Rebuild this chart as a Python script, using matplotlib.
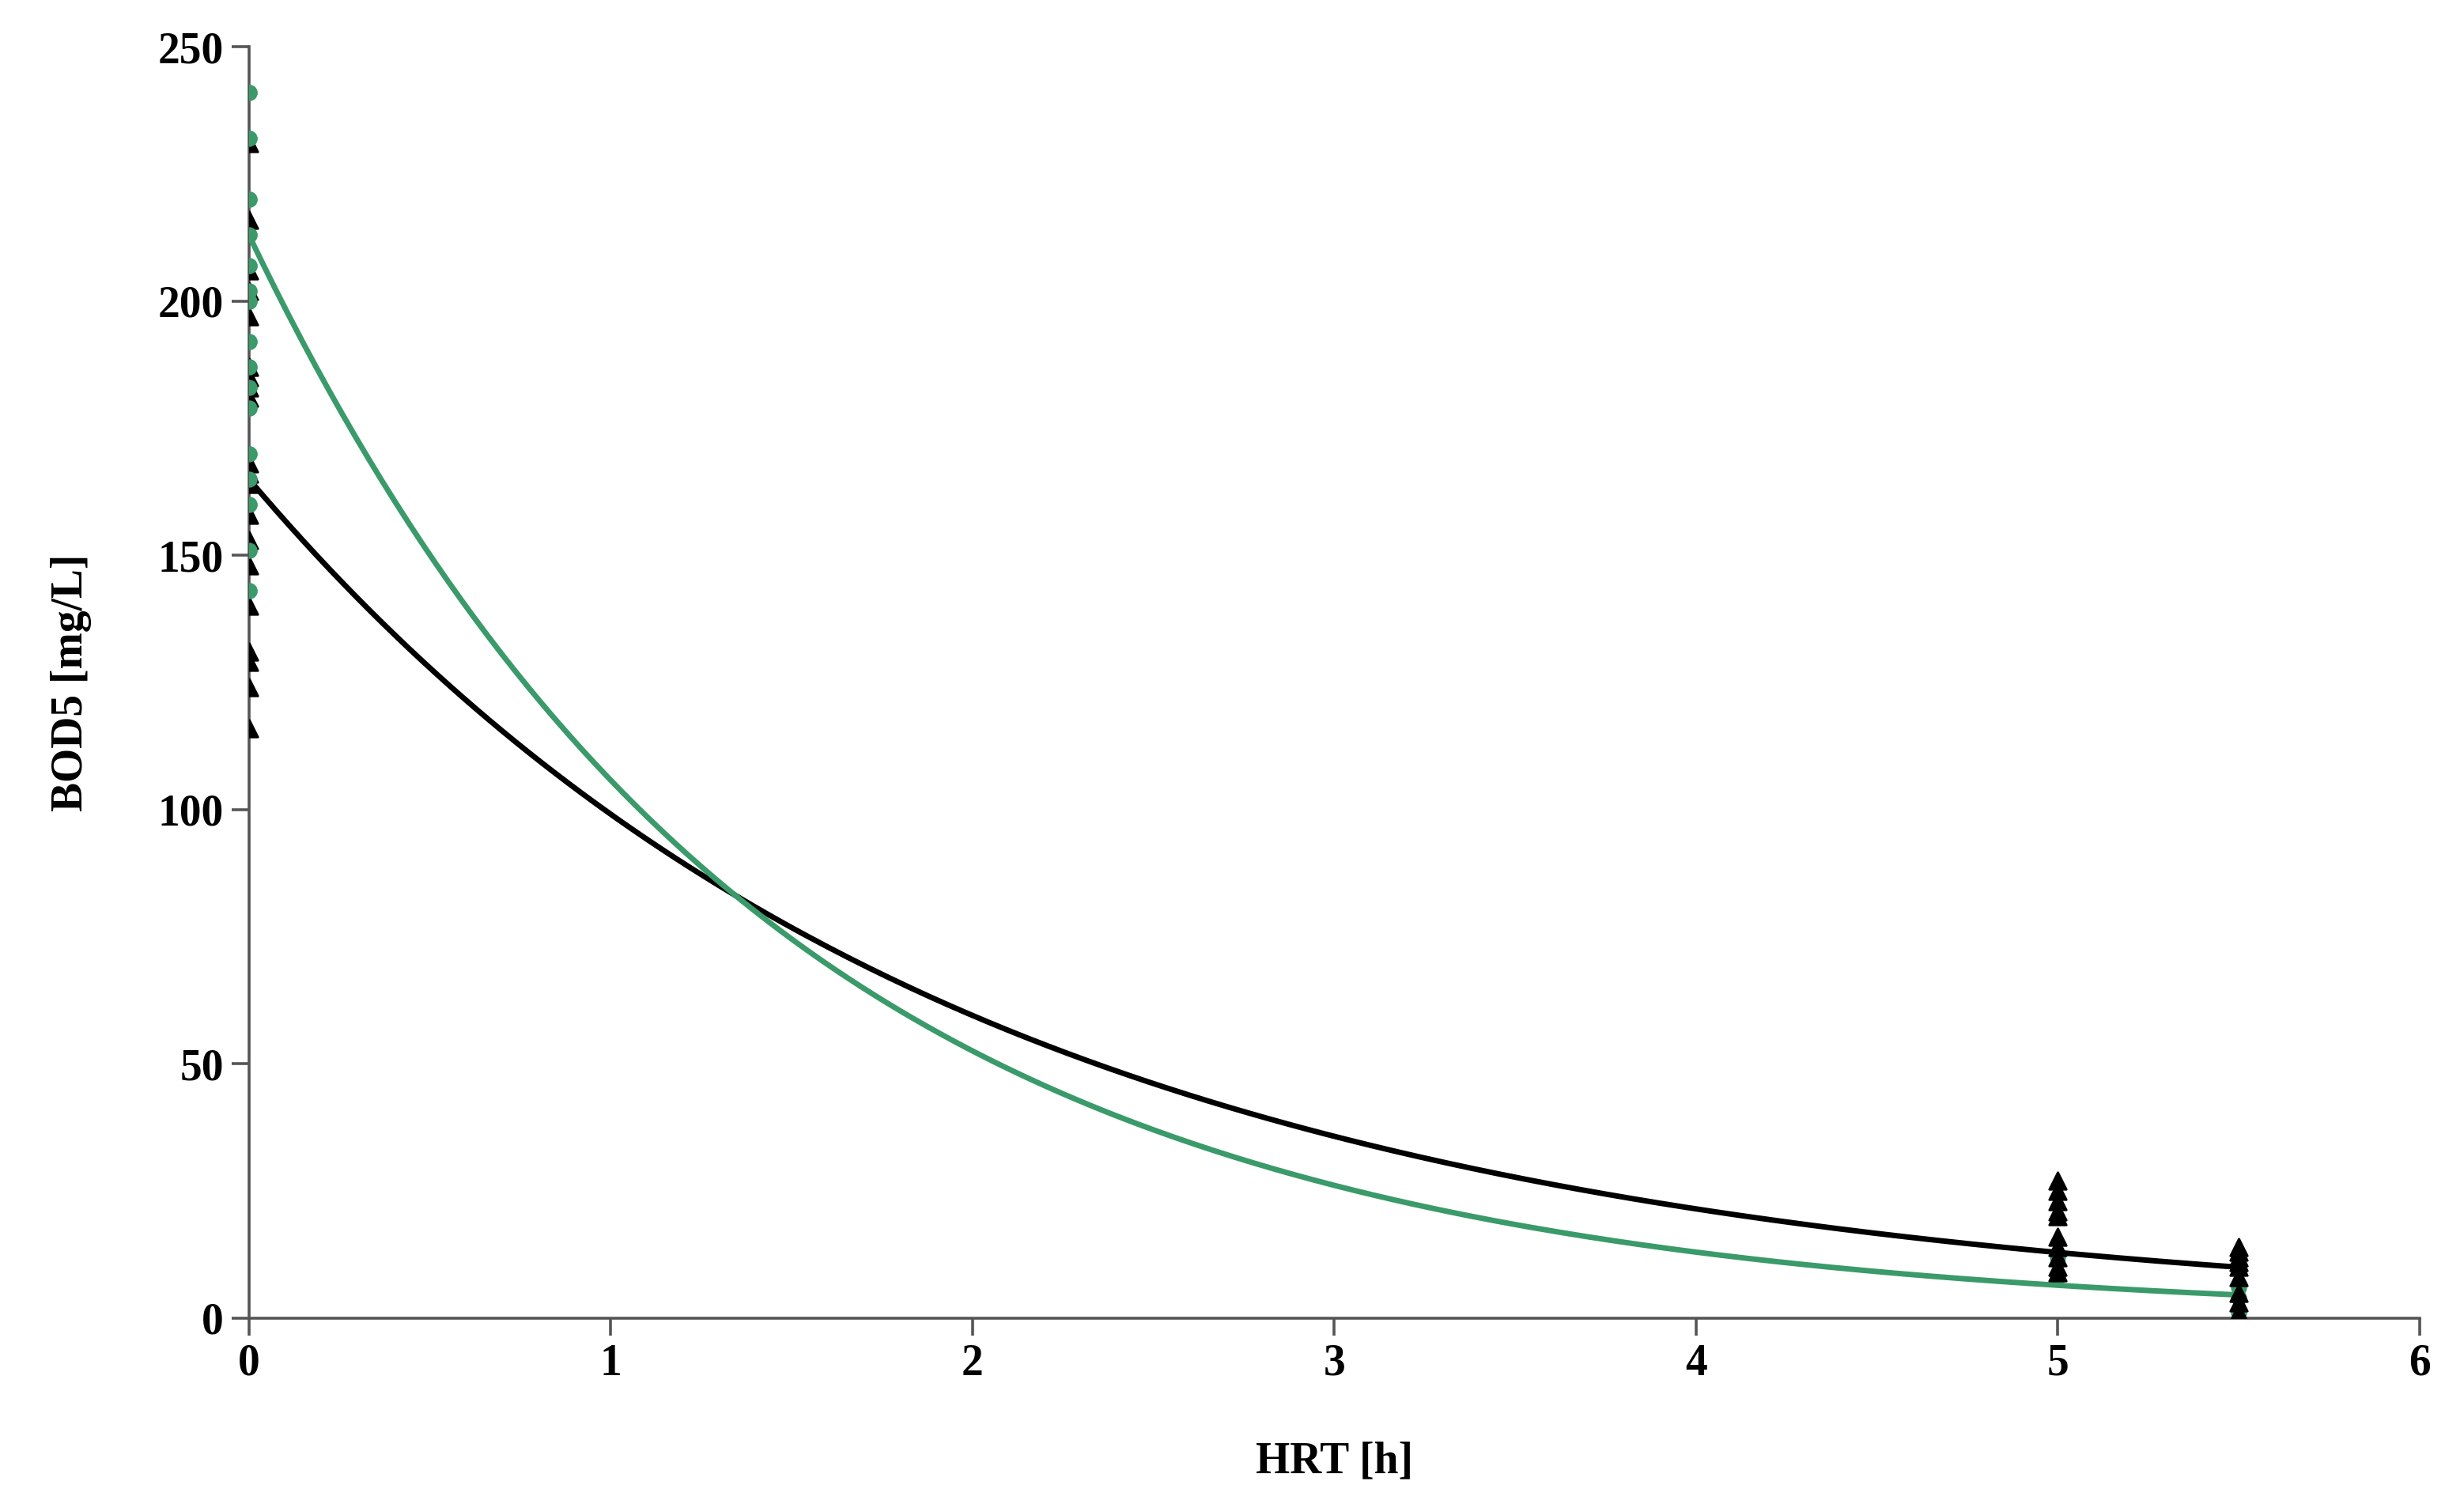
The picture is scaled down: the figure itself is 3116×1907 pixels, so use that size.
import numpy as np
import matplotlib
matplotlib.use('Agg')
import matplotlib.pyplot as plt

# measured points (HRT h, BOD5 mg/L)
green_x = [0]*16 + [5, 5] + [5.5, 5.5, 5.5]
green_y = [241, 232, 220, 213, 207, 202, 200, 192, 187, 183, 179, 170, 165, 160, 151, 143,
           8, 12, 1, 4, 6]
black_x = [0]*20 + [5]*10 + [5.5]*9
black_y = [231, 216, 206, 202, 197, 187, 185, 183, 181, 168, 166, 164, 158, 153, 148, 140,
           131, 129, 124, 116,
           27, 25, 23, 21, 20, 16, 14, 12, 10, 9,
           14, 13, 12, 11, 10, 8, 5, 3, 1]

# fitted first-order decay curves
black_c0, black_k = 165.0, 0.51
green_c0, green_k = 213.0, 0.70

GREEN = '#3a9a6a'
plt.rcParams['font.family'] = ['Liberation Serif', 'DejaVu Serif']
plt.rcParams['font.weight'] = 'bold'

fig = plt.figure(figsize=(15.58, 9.535), dpi=200)
ax = fig.add_axes([0.101, 0.121 + 0.005, 0.887 - 0.006, 0.843])

t = np.linspace(0, 5.5, 300)
ax.plot(t, black_c0*np.exp(-black_k*t), color='black', lw=2.5, zorder=2)
ax.plot(t, green_c0*np.exp(-green_k*t), color=GREEN, lw=2.5, zorder=2)
ax.scatter(green_x, green_y, marker='o', s=40, color=GREEN, zorder=3)
ax.scatter(black_x, black_y, marker='^', s=60, color='black', zorder=4)
# green dots at the inlet sit on top of the triangles
ax.scatter(green_x[:16], green_y[:16], marker='o', s=40, color=GREEN, zorder=5)

ax.set_xlim(0, 6)
ax.set_ylim(0, 250)
ax.set_xticks(range(7))
ax.set_yticks(range(0, 251, 50))
for s in ['top', 'right']:
    ax.spines[s].set_visible(False)
for s in ['left', 'bottom']:
    ax.spines[s].set_color('#555555')
    ax.spines[s].set_linewidth(1.3)
ax.tick_params(colors='#555555', labelcolor='black', labelsize=20, length=8, width=1.3)
for lbl in ax.get_xticklabels() + ax.get_yticklabels():
    lbl.set_fontweight('bold')
ax.set_xlabel('HRT [h]', fontsize=20, fontweight='bold', labelpad=26)
ax.set_ylabel('BOD5 [mg/L]', fontsize=20, fontweight='bold', labelpad=30)

fig.savefig('out.png', dpi=200)
